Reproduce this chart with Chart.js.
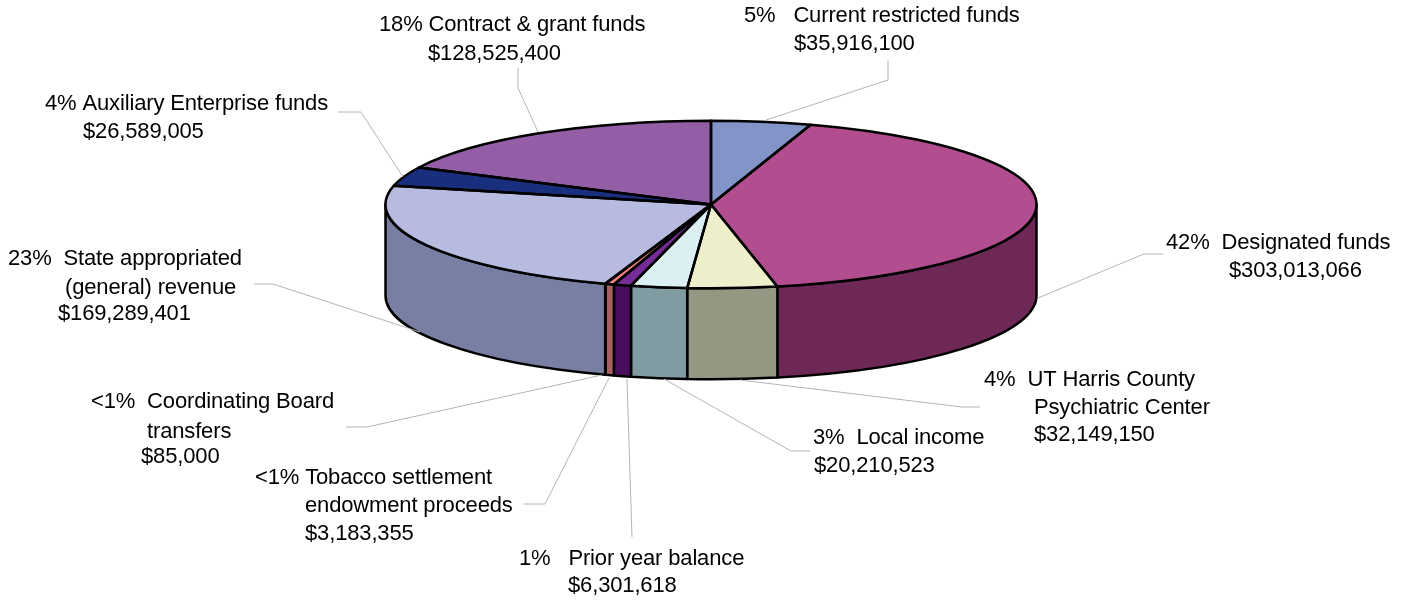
<!DOCTYPE html>
<html>
<head>
<meta charset="utf-8">
<title>Funding sources</title>
<style>
  html, body { margin: 0; padding: 0; background: #fff; }
  canvas { display: block; }
</style>
<script src="https://cdn.jsdelivr.net/npm/chart.js@4/dist/chart.umd.min.js"></script>
</head>
<body>
<canvas id="fundsChart" width="1409" height="601"></canvas>
<script>
// data
const categories = ['Current restricted funds', 'Designated funds', 'UT Harris County Psychiatric Center', 'Local income', 'Prior year balance', 'Tobacco settlement endowment proceeds', 'Coordinating Board transfers', 'State appropriated (general) revenue', 'Auxiliary Enterprise funds', 'Contract & grant funds'];
const fundValues = [35916100, 303013066, 32149150, 20210523, 6301618, 3183355, 85000, 169289401, 26589005, 128525400];
const topColors = ['#8294c8', '#b24e8f', '#efeecb', '#dcf0f3', '#762b96', '#f08080', '#e8a0a0', '#b7bbdf', '#192f7d', '#945ea6'];
const sideColors = ['#57648a', '#6d2856', '#959782', '#7f9ca2', '#490d5e', '#a85f62', '#8a5a5a', '#797ea3', '#0f1b50', '#5f3a6b'];

// text, x, y of every label line
const labelLines = [
  ['5%   Current restricted funds', 744, 16],
  ['$35,916,100', 794, 44],
  ['18% Contract & grant funds', 379, 25],
  ['$128,525,400', 428, 54],
  ['4% Auxiliary Enterprise funds', 45, 104],
  ['$26,589,005', 83, 132],
  ['42%  Designated funds', 1166, 243],
  ['$303,013,066', 1229, 271],
  ['23%  State appropriated', 8, 259],
  ['(general) revenue', 65, 288],
  ['$169,289,401', 58, 314],
  ['4%  UT Harris County', 984, 380],
  ['Psychiatric Center', 1034, 408],
  ['$32,149,150', 1034, 435],
  ['3%  Local income', 813, 438],
  ['$20,210,523', 814, 466],
  ['<1%  Coordinating Board', 91, 402],
  ['transfers', 147, 432],
  ['$85,000', 141, 457],
  ['<1% Tobacco settlement', 255, 478],
  ['endowment proceeds', 305, 506],
  ['$3,183,355', 305, 534],
  ['1%   Prior year balance', 519, 559],
  ['$6,301,618', 568, 586]
];

// leader lines from label to slice
const leaderLines = [
  [[888, 60], [888, 80], [766, 120]],
  [[518, 68], [518, 88], [538, 132]],
  [[338, 112], [361, 112], [403, 177]],
  [[1163, 254], [1144, 254], [1038, 298]],
  [[254, 284], [273, 284], [420, 332]],
  [[980, 407], [962, 407], [740, 380]],
  [[810, 451], [791, 451], [664, 379]],
  [[346, 427], [367, 427], [602, 375]],
  [[524, 504], [545, 504], [609, 378]],
  [[632, 537], [627, 379]]
];

const squash = 0.2575;   // top face ellipse ratio
const depth = 91;        // height of the side wall
const outlineWidth = 2.5;

// side walls first, then squash the pie while the library draws it
const pie3d = {
  id: 'pie3d',
  beforeDatasetsDraw(chart) {
    const ctx = chart.ctx;
    const arcs = chart.getDatasetMeta(0).data;
    ctx.save();
    ctx.strokeStyle = '#000';
    ctx.lineWidth = outlineWidth;
    ctx.lineJoin = 'round';
    arcs.forEach((arc, i) => {
      const a0 = Math.max(arc.startAngle, 0);
      const a1 = Math.min(arc.endAngle, Math.PI);
      if (a1 <= a0) return;
      const r = arc.outerRadius;
      ctx.beginPath();
      ctx.ellipse(arc.x, arc.y, r, r * squash, 0, a0, a1);
      ctx.ellipse(arc.x, arc.y + depth, r, r * squash, 0, a1, a0, true);
      ctx.closePath();
      ctx.fillStyle = sideColors[i];
      ctx.fill();
      ctx.stroke();
    });
    ctx.restore();

    const c = arcs[0];
    ctx.save();
    ctx.translate(c.x, c.y);
    ctx.scale(1, squash);
    ctx.translate(-c.x, -c.y);
  },
  afterDatasetsDraw(chart) {
    const ctx = chart.ctx;
    ctx.restore();
    // outline after the restore so the stroke keeps an even width
    ctx.save();
    ctx.strokeStyle = '#000';
    ctx.lineWidth = outlineWidth;
    ctx.lineJoin = 'round';
    chart.getDatasetMeta(0).data.forEach(arc => {
      const r = arc.outerRadius;
      ctx.beginPath();
      ctx.moveTo(arc.x, arc.y);
      ctx.ellipse(arc.x, arc.y, r, r * squash, 0, arc.startAngle, arc.endAngle);
      ctx.closePath();
      ctx.stroke();
    });
    ctx.restore();
  },
  afterDraw(chart) {
    const ctx = chart.ctx;
    ctx.save();
    ctx.strokeStyle = '#b4b4b4';
    ctx.lineWidth = 1;
    leaderLines.forEach(pts => {
      ctx.beginPath();
      pts.forEach((p, i) => i ? ctx.lineTo(p[0], p[1]) : ctx.moveTo(p[0], p[1]));
      ctx.stroke();
    });
    ctx.fillStyle = '#000';
    ctx.font = '22px "Liberation Sans"';
    ctx.letterSpacing = '-0.15px';
    ctx.textAlign = 'left';
    ctx.textBaseline = 'middle';
    labelLines.forEach(l => ctx.fillText(l[0], l[1], l[2]));
    ctx.restore();
  }
};

new Chart(document.getElementById('fundsChart').getContext('2d'), {
  type: 'pie',
  data: {
    labels: categories,
    datasets: [{
      data: fundValues,
      backgroundColor: topColors,
      borderWidth: 0
    }]
  },
  options: {
    responsive: false,
    animation: false,
    radius: 325.5,
    layout: { padding: { left: 13, right: 0, top: 0, bottom: 192 } },
    plugins: {
      legend: { display: false },
      tooltip: { enabled: false }
    }
  },
  plugins: [pie3d]
});
</script>
</body>
</html>
